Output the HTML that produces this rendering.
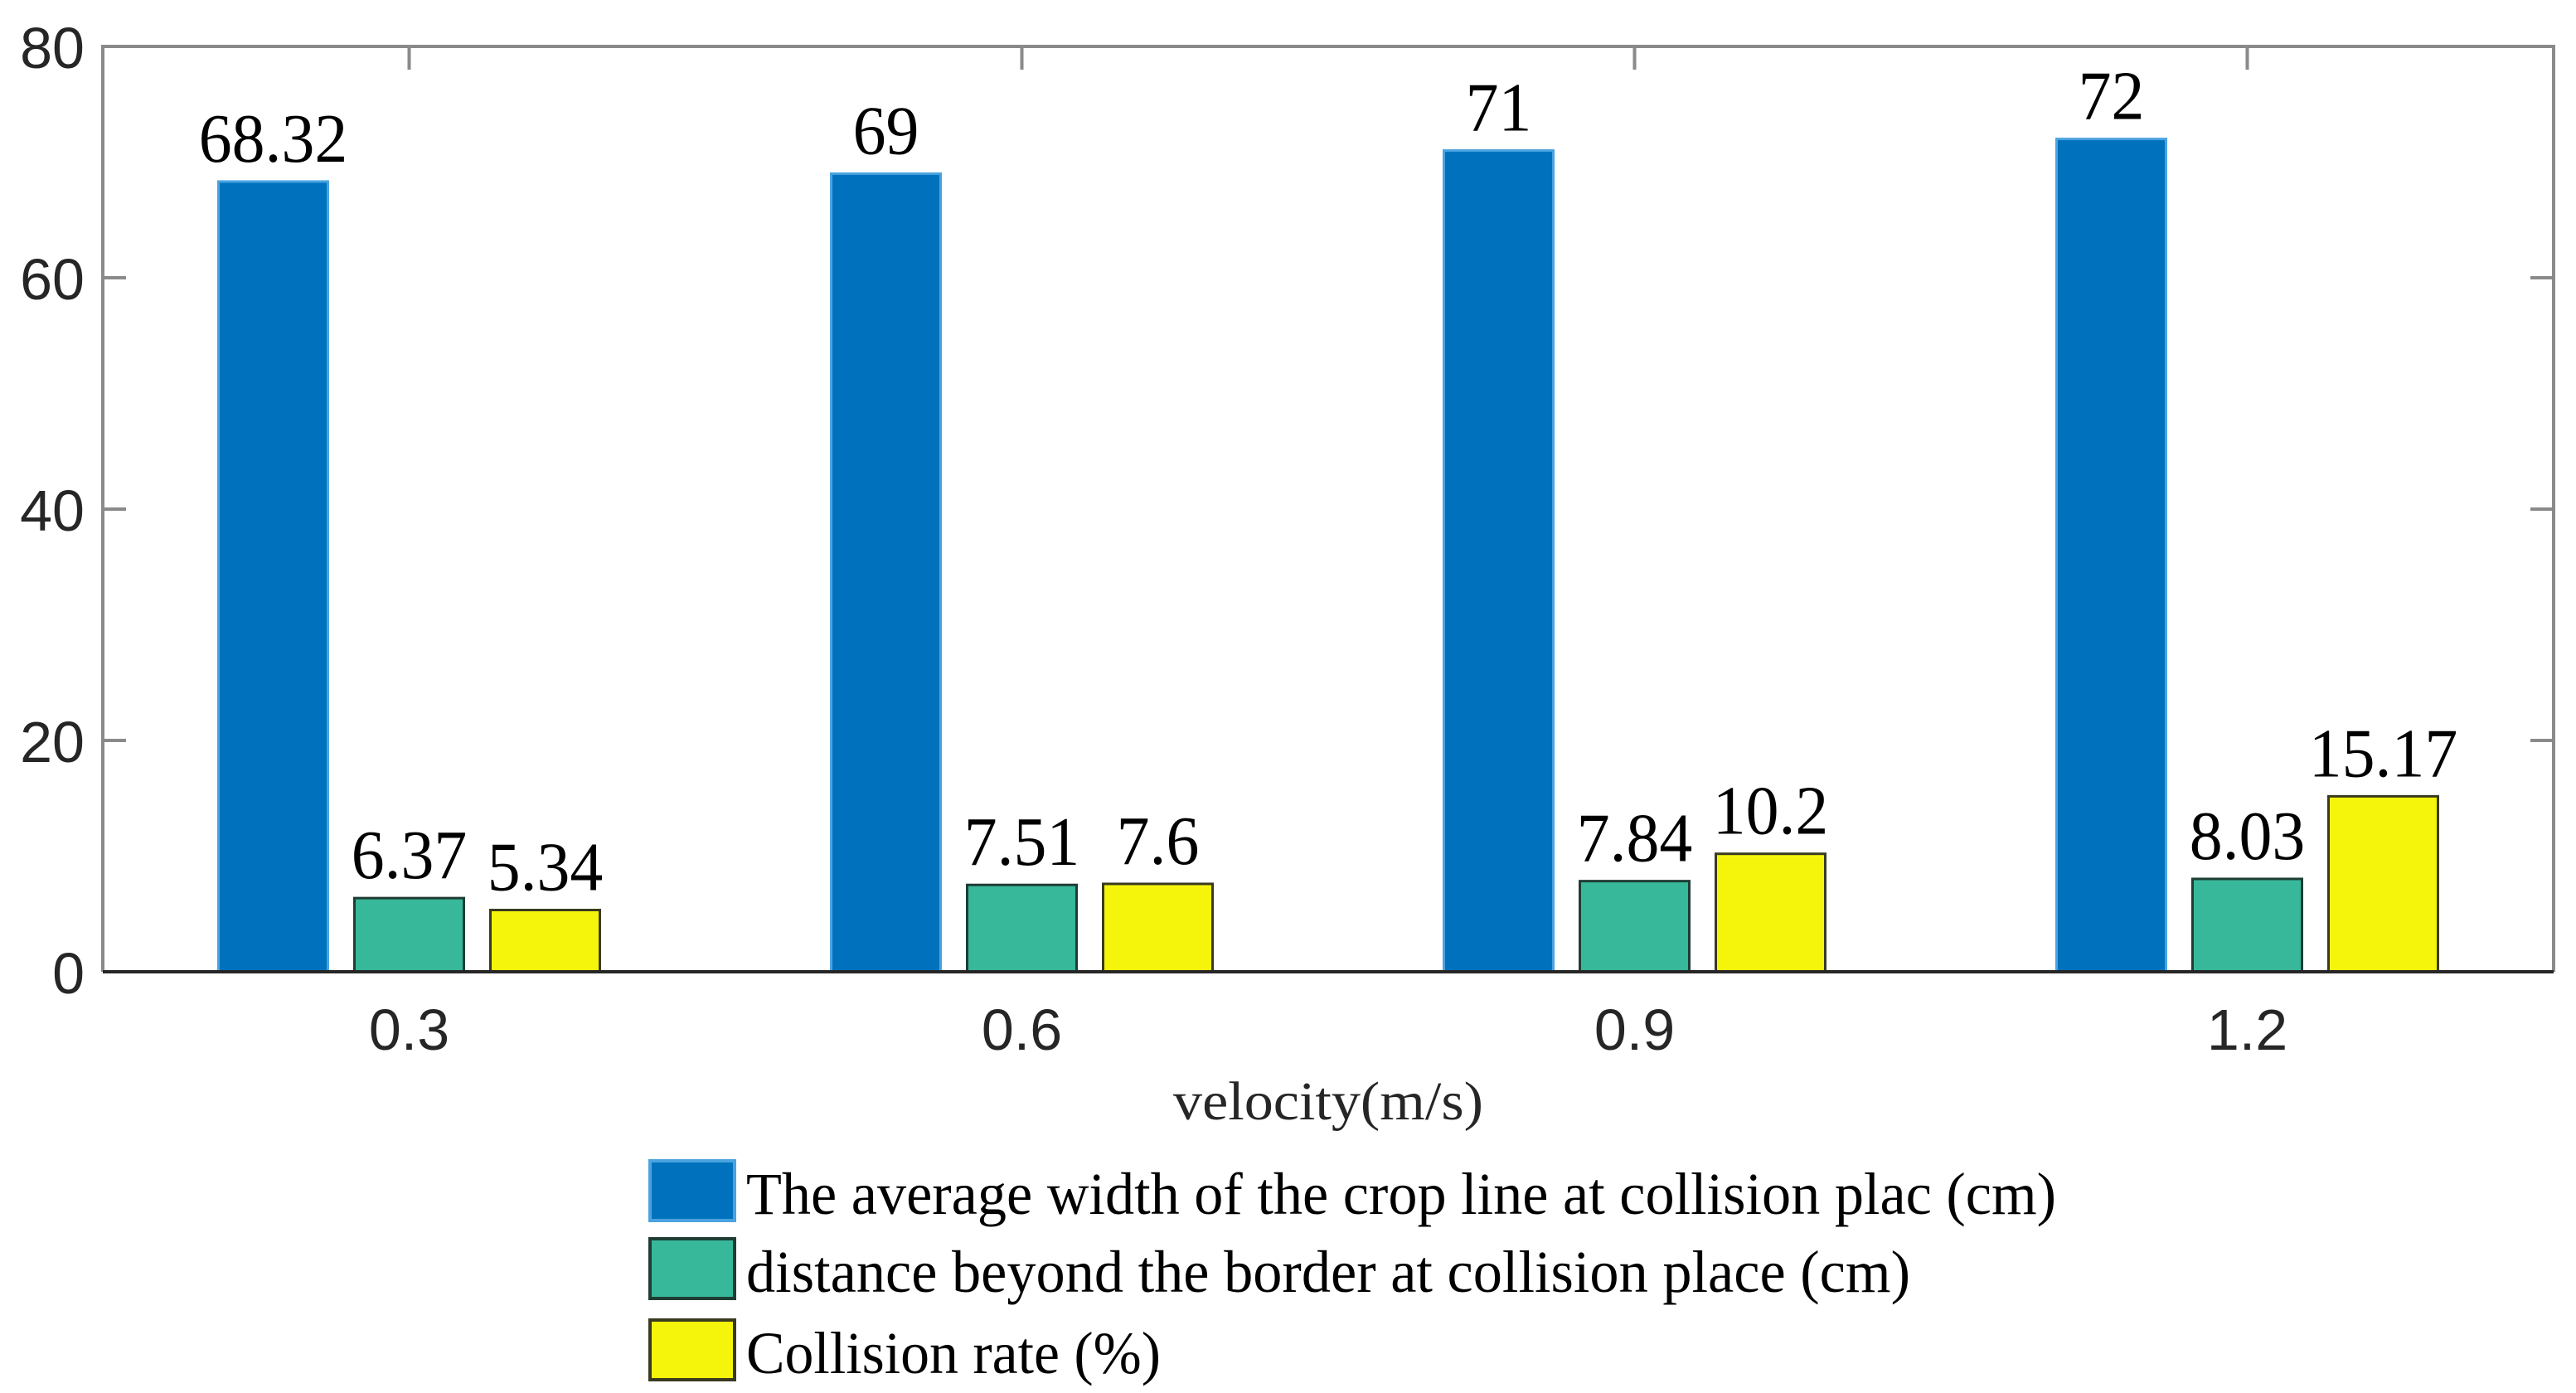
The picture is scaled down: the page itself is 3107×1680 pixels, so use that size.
<!DOCTYPE html>
<html><head><meta charset="utf-8"><style>
html,body{margin:0;padding:0;background:#fff;}
svg{display:block;}
</style></head><body>
<svg id="chart" width="3107" height="1680" viewBox="0 0 3107 1680" xmlns="http://www.w3.org/2000/svg">
<rect x="0" y="0" width="3107" height="1680" fill="#fff"/>
<g id="bars"></g>
<g id="axes"></g>
<g id="legend"></g>
</svg>
<script>
const categories = ["0.3", "0.6", "0.9", "1.2"];
const seriesWidth = [68.32, 69, 71, 72];
const seriesDistance = [6.37, 7.51, 7.84, 8.03];
const seriesCollision = [5.34, 7.6, 10.2, 15.17];
const labelsWidth = ["68.32", "69", "71", "72"];
const labelsDistance = ["6.37", "7.51", "7.84", "8.03"];
const labelsCollision = ["5.34", "7.6", "10.2", "15.17"];
const yTicks = [0, 20, 40, 60, 80];
const yTickLabels = ["0", "20", "40", "60", "80"];
const seriesNames = ["The average width of the crop line at collision plac (cm)", "distance beyond the border at collision place (cm)", "Collision rate (%)"];

const NS = "http://www.w3.org/2000/svg";
const L = 124, R = 3080, T = 56, B = 1172, YMAX = 80;
function yScale(v){ return B - (v / YMAX) * (B - T); }
function xCenter(i){ const band = (R - L) / categories.length; return L + band * (i + 0.5); }
function mk(tag, attrs, parent){ const e = document.createElementNS(NS, tag); for (const k in attrs) e.setAttribute(k, attrs[k]); parent.appendChild(e); return e; }

const barsG = document.getElementById('bars');
const axesG = document.getElementById('axes');
const legG = document.getElementById('legend');

const series = [
  {vals: seriesWidth, labels: labelsWidth, fill: "#0072BD", stroke: "#4aa3e0", off: -164, name: "width"},
  {vals: seriesDistance, labels: labelsDistance, fill: "#38B89A", stroke: "#1f3d35", off: 0, name: "distance"},
  {vals: seriesCollision, labels: labelsCollision, fill: "#F5F50C", stroke: "#3a3a20", off: 164, name: "collision"}
];
const BW = 132;
series.forEach(s => {
  s.vals.forEach((v, i) => {
    const cx = xCenter(i) + s.off;
    const y = yScale(v);
    const r = mk('rect', {x: cx - BW/2, y: y, width: BW, height: B - y, fill: s.fill, stroke: s.stroke, 'stroke-width': 3}, barsG);
    
    
    const t = mk('text', {transform: 'translate(' + cx + ',' + (y - 24) + ') scale(0.95,1)', 'text-anchor': 'middle', 'font-family': '"Liberation Serif", serif', 'font-size': 84, fill: '#000'}, barsG);
    t.textContent = s.labels[i];
    
    
  });
});

const frame = mk('path', {d: 'M' + L + ' ' + B + ' V' + T + ' H' + R + ' V' + B, fill: 'none', stroke: '#8a8a8a', 'stroke-width': 4}, axesG);


const xAxis = mk('line', {x1: L, x2: R, y1: B, y2: B, stroke: '#262626', 'stroke-width': 4}, axesG);



yTicks.forEach((v, i) => {
  const y = yScale(v);
  if (v > 0 && v < YMAX) {
    const t1 = mk('line', {x1: L, x2: L + 28, y1: y, y2: y, stroke: '#8a8a8a', 'stroke-width': 4}, axesG);
    
    
    const t2 = mk('line', {x1: R - 28, x2: R, y1: y, y2: y, stroke: '#8a8a8a', 'stroke-width': 4}, axesG);
    
    
  }
  const lab = mk('text', {x: 102, y: y + 26, 'text-anchor': 'end', 'font-family': '"Liberation Sans", sans-serif', 'font-size': 70, fill: '#262626'}, axesG);
  lab.textContent = yTickLabels[i];
  
  
});

categories.forEach((c, i) => {
  const x = xCenter(i);
  const tt = mk('line', {x1: x, x2: x, y1: T, y2: T + 28, stroke: '#8a8a8a', 'stroke-width': 4}, axesG);
  
  
  const lab = mk('text', {x: x, y: 1266, 'text-anchor': 'middle', 'font-family': '"Liberation Sans", sans-serif', 'font-size': 70, fill: '#262626'}, axesG);
  lab.textContent = c;
  
  
});

const xt = mk('text', {x: 1602, y: 1350, 'text-anchor': 'middle', 'font-family': '"Liberation Serif", serif', 'font-size': 66, fill: '#262626', textLength: 374, lengthAdjust: 'spacingAndGlyphs'}, axesG);
xt.textContent = 'velocity(m/s)';



const legRows = [1400, 1494, 1592];
const legWidths = [1580, 1404, 500];
series.forEach((s, i) => {
  const y = legRows[i];
  const sw = mk('rect', {x: 784, y: y, width: 102, height: 72, fill: s.fill, stroke: s.stroke, 'stroke-width': 4}, legG);
  
  
  const t = mk('text', {x: 900, y: y + 64, 'font-family': '"Liberation Serif", serif', 'font-size': 72, fill: '#000', textLength: legWidths[i], lengthAdjust: 'spacingAndGlyphs'}, legG);
  t.textContent = seriesNames[i];
  
  
});
</script>
</body></html>
